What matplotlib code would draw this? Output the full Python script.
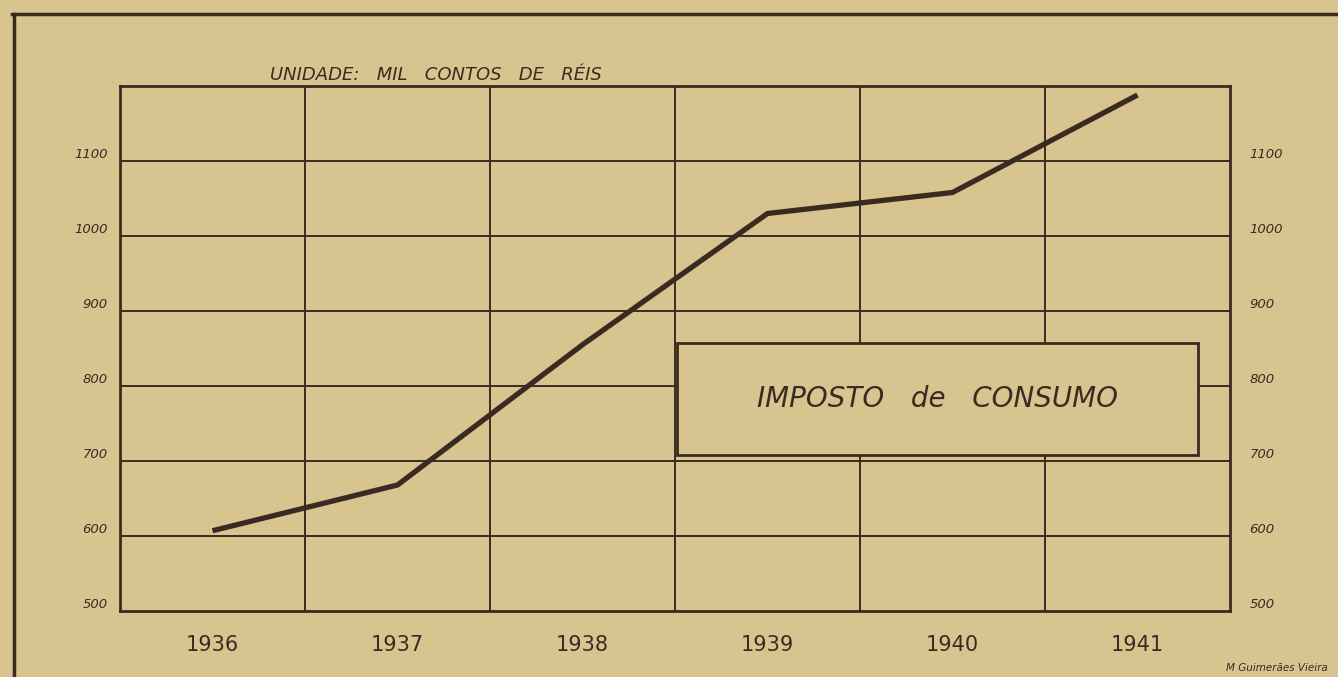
import matplotlib.pyplot as plt
from matplotlib.lines import Line2D
from matplotlib.patches import Rectangle

# dados (mil contos de reis)
anos = [1936, 1937, 1938, 1939, 1940, 1941]
imposto = [607, 668, 855, 1030, 1058, 1188]
y_ticks = [500, 600, 700, 800, 900, 1000, 1100]
titulo = "UNIDADE:   MIL   CONTOS   DE   RÉIS"
nome = "IMPOSTO   de   CONSUMO"
autor = "M Guimerães Vieira"

papel = "#d8c48f"
tinta = "#3a2b22"

fig = plt.figure(figsize=(13.38, 6.77), dpi=100, facecolor=papel)
ax = fig.add_axes([120 / 1338, 66 / 677, 1110 / 1338, 525 / 677])
ax.set_facecolor(papel)

ax.set_xlim(1935.5, 1941.5)
ax.set_ylim(500, 1200)

# grade
for x in [1936.5, 1937.5, 1938.5, 1939.5, 1940.5]:
  ax.axvline(x, color=tinta, lw=1.4, zorder=1)
for y in y_ticks[1:]:
  ax.axhline(y, color=tinta, lw=1.4, zorder=1)

ax.plot(anos, imposto, color=tinta, lw=3.8, solid_capstyle='butt', zorder=3)

for s in ax.spines.values():
  s.set_color(tinta)
  s.set_linewidth(2)

ax.set_xticks(anos)
ax.set_xticklabels([str(a) for a in anos], fontsize=15, color=tinta)
ax.set_yticks(y_ticks)
ax.set_yticklabels([str(v) for v in y_ticks], fontsize=9.5, color=tinta, fontstyle='italic')
ax.tick_params(axis='x', length=0, pad=17)
ax.tick_params(axis='y', length=0, pad=9)
for lab in ax.get_yticklabels():
  lab.set_verticalalignment('bottom')

# escala repetida a direita
ax2 = ax.twinx()
ax2.set_ylim(ax.get_ylim())
ax2.set_yticks(y_ticks)
ax2.set_yticklabels([str(v) for v in y_ticks], fontsize=9.5, color=tinta, fontstyle='italic')
ax2.tick_params(axis='y', length=0, pad=14)
for lab in ax2.get_yticklabels():
  lab.set_verticalalignment('bottom')
for s in ax2.spines.values():
  s.set_visible(False)

# caixa do titulo
ax.add_patch(Rectangle((0.502, 0.297), 0.469, 0.213, transform=ax.transAxes,
                       facecolor=papel, edgecolor=tinta, lw=2, zorder=4))
ax.text(0.7365, 0.404, nome, transform=ax.transAxes, ha='center', va='center',
        fontsize=20, fontstyle='italic', color=tinta, zorder=5)

fig.text(270 / 1338, 1 - 75 / 677, titulo, ha='left', va='center', fontsize=13,
         fontstyle='italic', color=tinta)
fig.text(1328 / 1338, 1 - 668 / 677, autor, ha='right', va='center', fontsize=7.5,
         fontstyle='italic', color=tinta)

# moldura externa
fig.add_artist(Line2D([12 / 1338, 1.0], [1 - 14 / 677, 1 - 14 / 677], color=tinta, lw=2.5,
                      transform=fig.transFigure))
fig.add_artist(Line2D([14 / 1338, 14 / 1338], [1 - 14 / 677, 0.0], color=tinta, lw=2.5,
                      transform=fig.transFigure))

fig.savefig("out.png", dpi=100, facecolor=papel)
